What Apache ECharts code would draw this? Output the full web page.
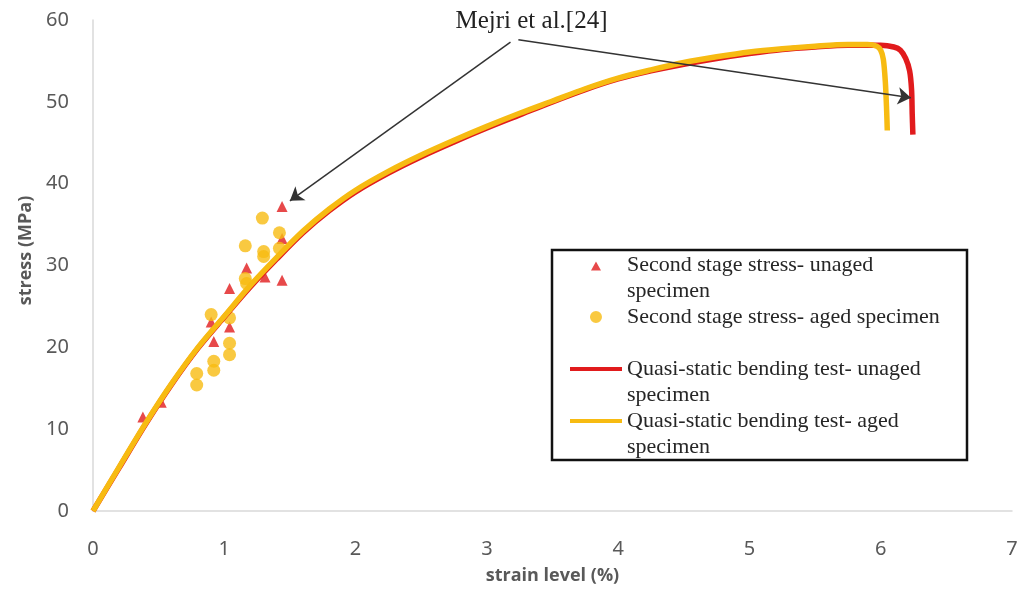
<!DOCTYPE html>
<html>
<head>
<meta charset="utf-8">
<script src="https://cdn.jsdelivr.net/npm/echarts@6/dist/echarts.min.js"></script>
<style>
  html, body { margin: 0; padding: 0; background: #fff; }
  #main { width: 1019px; height: 597px; }
</style>
</head>
<body>
<div id="main"></div>
<script>
// scatter: second stage stress
var unagedPtStrain = [0.38, 0.52, 0.90, 0.92, 1.04, 1.04, 1.17, 1.31, 1.44, 1.44, 1.44];
var unagedPtStress = [11.5, 13.3, 23.1, 20.7, 22.5, 27.2, 29.7, 28.6, 28.2, 33.3, 37.2];
var agedPtStrain = [0.79, 0.79, 0.92, 0.92, 0.90, 1.04, 1.04, 1.04, 1.16, 1.17, 1.16, 1.29, 1.30, 1.30, 1.42, 1.42];
var agedPtStress = [15.4, 16.8, 17.2, 18.3, 24.0, 19.1, 20.5, 23.6, 28.4, 27.8, 32.4, 35.8, 31.7, 31.1, 34.0, 32.1];

// quasi-static bending curves
var unagedStrain = [0, 0.2, 0.4, 0.6, 0.8, 1.0, 1.2, 1.4, 1.6, 1.8, 2.0, 2.25, 2.5, 2.75, 3.0, 3.25, 3.5, 3.75, 4.0, 4.25, 4.5, 4.75, 5.0, 5.25, 5.5, 5.75, 6.0, 6.1, 6.15, 6.19, 6.22, 6.235, 6.24, 6.245];
var unagedStress = [0, 5.3, 10.6, 15.5, 19.9, 23.7, 27.4, 30.8, 34.0, 36.7, 39.0, 41.3, 43.3, 45.1, 46.8, 48.4, 50.0, 51.5, 52.8, 53.8, 54.6, 55.3, 55.9, 56.4, 56.7, 56.9, 56.9, 56.7, 56.3, 55.3, 53.8, 51.5, 48.5, 46.0];
var agedStrain = [0, 0.2, 0.4, 0.6, 0.8, 1.0, 1.2, 1.4, 1.6, 1.8, 2.0, 2.25, 2.5, 2.75, 3.0, 3.25, 3.5, 3.75, 4.0, 4.25, 4.5, 4.75, 5.0, 5.25, 5.5, 5.75, 5.9, 5.97, 6.0, 6.02, 6.035, 6.045, 6.05];
var agedStress = [0, 5.4, 10.7, 15.6, 20.0, 23.8, 27.6, 31.0, 34.2, 36.9, 39.2, 41.5, 43.5, 45.3, 47.0, 48.6, 50.1, 51.6, 52.9, 53.9, 54.8, 55.5, 56.1, 56.5, 56.8, 57.0, 57.0, 56.8, 56.3, 55.2, 52.5, 49.0, 46.5];

var xTicks = [0, 1, 2, 3, 4, 5, 6, 7];
var yTicks = [0, 10, 20, 30, 40, 50, 60];

// annotation arrows (data coords)
var noteText = 'Mejri et al.[24]';
var notePos = [3.34, 59.8];
var arrowFrom = [[3.18, 57.3], [3.24, 57.6]];
var arrowTo = [[1.50, 37.9], [6.23, 50.5]];

var names = [
  'Second stage stress- unaged specimen',
  'Second stage stress- aged specimen',
  'Quasi-static bending test- unaged specimen',
  'Quasi-static bending test- aged specimen'
];
var legendText = {};
legendText[names[0]] = '\nSecond stage stress- unaged\nspecimen';
legendText[names[1]] = '\nSecond stage stress- aged specimen\n ';
legendText[names[2]] = '\nQuasi-static bending test- unaged\nspecimen';
legendText[names[3]] = '\nQuasi-static bending test- aged\nspecimen';

function pairs(xs, ys) {
  return xs.map(function (x, i) { return [x, ys[i]]; });
}

var RED = '#e11b1d';
var GOLD = '#f7bb12';
var labelFont = "'Liberation Sans Narrow', 'Noto Sans', sans-serif";
var nameFont = "'Open Sans', 'Noto Sans', sans-serif";
// small triangle centred in a 52x12 legend box (corner dots keep the box size)
var triIcon = 'path://M0,0L0.01,0ZM52,12L52.01,12ZM21,11.5L26,2.5L31,11.5Z';
var dotIcon = 'path://M0,0L0.01,0ZM52,12L52.01,12ZM20,6A6,6,0,1,1,32,6A6,6,0,1,1,20,6Z';

var myChart = echarts.init(document.getElementById('main'));

var arrows = arrowFrom.map(function (p, i) {
  return [{ coord: p }, { coord: arrowTo[i] }];
});

var option = {
  animation: false,
  grid: { left: 93, right: 7, top: 20, bottom: 86, outerBoundsMode: 'none' },
  xAxis: {
    type: 'value',
    min: xTicks[0],
    max: xTicks[xTicks.length - 1],
    interval: 1,
    name: 'strain level (%)',
    nameLocation: 'middle',
    nameGap: 56,
    nameTextStyle: { color: '#595959', fontSize: 18, fontWeight: 'bold', fontFamily: nameFont },
    axisLine: { show: true, lineStyle: { color: '#d9d9d9', width: 1.5 } },
    axisTick: { show: false },
    splitLine: { show: false },
    axisLabel: { color: '#595959', fontSize: 20, fontFamily: labelFont, margin: 28 }
  },
  yAxis: {
    type: 'value',
    min: yTicks[0],
    max: yTicks[yTicks.length - 1],
    interval: 10,
    name: 'stress (MPa)',
    nameLocation: 'middle',
    nameGap: 54,
    nameTextStyle: { color: '#595959', fontSize: 18, fontWeight: 'bold', fontFamily: nameFont, padding: [0, 0, 0, 30] },
    axisLine: { show: true, lineStyle: { color: '#d9d9d9', width: 1.5 } },
    axisTick: { show: false },
    splitLine: { show: false },
    axisLabel: { color: '#595959', fontSize: 20, fontFamily: labelFont, margin: 24 }
  },
  legend: {
    orient: 'vertical',
    left: 568,
    top: 226,
    padding: 0,
    itemWidth: 52,
    itemHeight: 12,
    itemGap: -26,
    selectedMode: false,
    data: [
      { name: names[0], icon: triIcon },
      { name: names[1], icon: dotIcon },
      { name: names[2], itemStyle: { opacity: 0 } },
      { name: names[3], itemStyle: { opacity: 0 } }
    ],
    lineStyle: { width: 4 },
    formatter: function (n) { return legendText[n]; },
    textStyle: { fontFamily: "'Liberation Serif', serif", fontSize: 22, lineHeight: 26, color: '#262626' }
  },
  graphic: [{
    type: 'rect',
    shape: { x: 552, y: 250, width: 415, height: 210 },
    style: { fill: 'none', stroke: '#111', lineWidth: 2.5 },
    z: 0
  }],
  series: [
    {
      name: names[0],
      type: 'scatter',
      symbol: 'triangle',
      symbolSize: 11,
      itemStyle: { color: RED },
      data: pairs(unagedPtStrain, unagedPtStress)
    },
    {
      name: names[1],
      type: 'scatter',
      symbol: 'circle',
      symbolSize: 13,
      itemStyle: { color: GOLD },
      data: pairs(agedPtStrain, agedPtStress)
    },
    {
      name: names[2],
      type: 'line',
      showSymbol: false,
      symbol: 'none',
      smooth: 0.3,
      lineStyle: { color: RED, width: 5.5 },
      itemStyle: { color: RED },
      data: pairs(unagedStrain, unagedStress)
    },
    {
      name: names[3],
      type: 'line',
      showSymbol: false,
      symbol: 'none',
      smooth: 0.3,
      lineStyle: { color: GOLD, width: 5.5 },
      itemStyle: { color: GOLD },
      data: pairs(agedStrain, agedStress),
      markLine: {
        silent: true,
        symbol: ['none', 'arrow'],
        symbolSize: 13,
        lineStyle: { color: '#333', width: 1.5, type: 'solid' },
        label: { show: false },
        data: arrows
      },
      markPoint: {
        silent: true,
        symbol: 'circle',
        symbolSize: 0,
        label: {
          show: true,
          position: 'inside',
          formatter: noteText,
          color: '#222',
          fontSize: 25,
          fontFamily: "'Liberation Serif', serif"
        },
        data: [{ coord: notePos }]
      }
    }
  ]
};

myChart.setOption(option);
</script>
</body>
</html>
